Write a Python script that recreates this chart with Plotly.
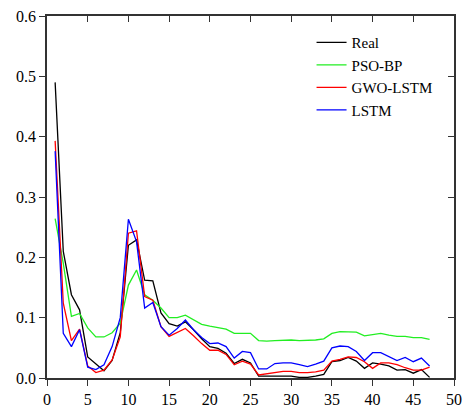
import plotly.graph_objects as go

x = list(range(1, 48))

real = [0.490, 0.210, 0.138, 0.113, 0.035, 0.024, 0.012, 0.029, 0.075, 0.220,
        0.229, 0.162, 0.161, 0.108, 0.090, 0.086, 0.093, 0.080, 0.065, 0.052,
        0.049, 0.041, 0.024, 0.031, 0.025, 0.003, 0.003, 0.003, 0.003, 0.003,
        0.001, 0.001, 0.003, 0.006, 0.027, 0.029, 0.034, 0.028, 0.016, 0.025,
        0.023, 0.020, 0.013, 0.014, 0.008, 0.014, 0.001]

pso_bp = [0.264, 0.190, 0.102, 0.107, 0.083, 0.068, 0.068, 0.075, 0.091, 0.154,
          0.179, 0.138, 0.129, 0.116, 0.100, 0.100, 0.104, 0.097, 0.089, 0.086,
          0.084, 0.081, 0.074, 0.074, 0.074, 0.062, 0.061, 0.062, 0.063, 0.063,
          0.062, 0.062, 0.063, 0.065, 0.074, 0.077, 0.077, 0.076, 0.070, 0.072,
          0.074, 0.071, 0.069, 0.069, 0.067, 0.067, 0.064]

gwo_lstm = [0.393, 0.124, 0.062, 0.081, 0.020, 0.009, 0.013, 0.030, 0.068, 0.240,
            0.244, 0.135, 0.129, 0.085, 0.069, 0.075, 0.082, 0.070, 0.057, 0.046,
            0.046, 0.039, 0.022, 0.028, 0.023, 0.005, 0.007, 0.010, 0.011, 0.011,
            0.009, 0.009, 0.010, 0.013, 0.028, 0.031, 0.035, 0.034, 0.027, 0.016,
            0.025, 0.025, 0.022, 0.017, 0.013, 0.013, 0.018]

lstm = [0.376, 0.074, 0.052, 0.080, 0.018, 0.014, 0.022, 0.052, 0.100, 0.263,
        0.226, 0.116, 0.125, 0.085, 0.071, 0.082, 0.096, 0.080, 0.067, 0.057,
        0.058, 0.052, 0.033, 0.044, 0.042, 0.015, 0.015, 0.024, 0.025, 0.025,
        0.022, 0.019, 0.023, 0.028, 0.050, 0.053, 0.052, 0.044, 0.029, 0.042,
        0.042, 0.035, 0.029, 0.034, 0.027, 0.033, 0.020]

names = ["Real", "PSO-BP", "GWO-LSTM", "LSTM"]
colors = ["#000000", "#22ee22", "#ff0000", "#0000ff"]
series = [real, pso_bp, gwo_lstm, lstm]

FONT = "Liberation Serif"

fig = go.Figure()
for name, col, ys in zip(names, colors, series):
    fig.add_trace(go.Scatter(x=x, y=ys, mode="lines", name=name,
                             line=dict(color=col, width=1.3)))

# invisible trace to anchor the mirrored (top/right) axes
fig.add_trace(go.Scatter(x=[0, 50], y=[0, 0.6], xaxis="x2", yaxis="y2",
                         mode="lines", line=dict(color="rgba(0,0,0,0)"),
                         showlegend=False, hoverinfo="skip"))

axis_common = dict(showgrid=False, zeroline=False, showline=True,
                   linecolor="#333333", linewidth=1.5, tickcolor="#333333",
                   ticklen=6, tickwidth=1.2, automargin=False,
                   tickfont=dict(family=FONT, size=16, color="black"))

fig.update_layout(
    width=467, height=408,
    margin=dict(l=47, r=13, t=16, b=30, autoexpand=False),
    paper_bgcolor="white", plot_bgcolor="white",
    font=dict(family=FONT, size=16, color="black"),
    showlegend=True,
    legend=dict(x=0.65, y=0.972, xanchor="left", yanchor="top",
                bgcolor="rgba(0,0,0,0)", borderwidth=0,
                font=dict(family=FONT, size=15, color="black"),
                tracegroupgap=0, itemwidth=30),
    xaxis=dict(range=[0, 50], tick0=0, dtick=5, ticks="outside", **axis_common),
    yaxis=dict(range=[0, 0.6], tick0=0, dtick=0.1, tickformat=".1f",
               ticks="outside", **axis_common),
    xaxis2=dict(range=[0, 50], tick0=0, dtick=5, ticks="inside", overlaying="x",
                side="top", showticklabels=False, **axis_common),
    yaxis2=dict(range=[0, 0.6], tick0=0, dtick=0.1, ticks="inside", overlaying="y",
                side="right", showticklabels=False, **axis_common),
)

fig.write_html("out.html", config={"displayModeBar": False},
               post_script="document.body.style.margin='0';document.body.style.padding='0';")
